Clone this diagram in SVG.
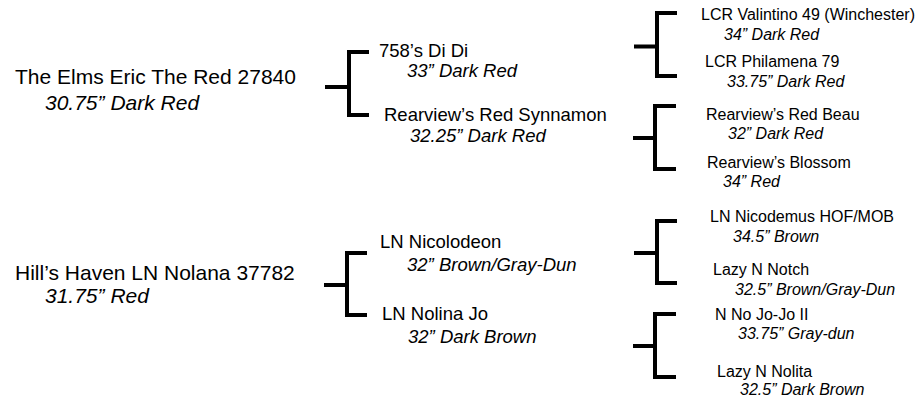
<svg xmlns="http://www.w3.org/2000/svg" width="919" height="397" viewBox="0 0 919 397">
<style>
text{font-family:"Liberation Sans",Arial,sans-serif;fill:#000}
.g1{font-size:21px}
.g2{font-size:18.5px}
.g3{font-size:16px}
.i{font-style:italic}
.br{fill:none;stroke:#000;stroke-width:4;stroke-linejoin:miter}
</style>
<rect width="919" height="397" fill="#fff"/>
<g id="connectors">
<path class="br" d="M325,87H349M369,52H349V115H369"/>
<path class="br" d="M324,285H347M367,253H347V315H367"/>
<path class="br" d="M634,46.5H657M677,13H657V76H677"/>
<path class="br" d="M633,138H655M676,106H655V169H676"/>
<path class="br" d="M634,253H657M677,221H657V283H677"/>
<path class="br" d="M633,346H655M676,314H655V377H676"/>
</g>
<g id="elms-eric">
<text class="g1" x="15" y="84">The Elms Eric The Red 27840</text>
<text class="g1 i" x="45" y="110">30.75” Dark Red</text>
</g>
<g id="hills-haven">
<text class="g1" x="15" y="280">Hill’s Haven LN Nolana 37782</text>
<text class="g1 i" x="45" y="303">31.75” Red</text>
</g>
<g id="di-di">
<text class="g2" x="379" y="57">758’s Di Di</text>
<text class="g2 i" x="407" y="77">33” Dark Red</text>
</g>
<g id="synnamon">
<text class="g2" x="384" y="121">Rearview’s Red Synnamon</text>
<text class="g2 i" x="410" y="142">32.25” Dark Red</text>
</g>
<g id="nicolodeon">
<text class="g2" x="380" y="248">LN Nicolodeon</text>
<text class="g2 i" x="407" y="271">32” Brown/Gray-Dun</text>
</g>
<g id="nolina-jo">
<text class="g2" x="382" y="320">LN Nolina Jo</text>
<text class="g2 i" x="408" y="343">32” Dark Brown</text>
</g>
<g id="valintino">
<text class="g3" x="701" y="20">LCR Valintino 49 (Winchester)</text>
<text class="g3 i" x="724" y="40">34” Dark Red</text>
</g>
<g id="philamena">
<text class="g3" x="705" y="67">LCR Philamena 79</text>
<text class="g3 i" x="727" y="87">33.75” Dark Red</text>
</g>
<g id="red-beau">
<text class="g3" x="706" y="120">Rearview’s Red Beau</text>
<text class="g3 i" x="728" y="139">32” Dark Red</text>
</g>
<g id="blossom">
<text class="g3" x="707" y="168">Rearview’s Blossom</text>
<text class="g3 i" x="723" y="187">34” Red</text>
</g>
<g id="nicodemus">
<text class="g3" x="710" y="222">LN Nicodemus HOF/MOB</text>
<text class="g3 i" x="733" y="242">34.5” Brown</text>
</g>
<g id="lazy-n-notch">
<text class="g3" x="713" y="275">Lazy N Notch</text>
<text class="g3 i" x="735" y="295">32.5” Brown/Gray-Dun</text>
</g>
<g id="no-jo-jo">
<text class="g3" x="715" y="320">N No Jo-Jo II</text>
<text class="g3 i" x="738" y="339">33.75” Gray-dun</text>
</g>
<g id="lazy-n-nolita">
<text class="g3" x="717" y="377">Lazy N Nolita</text>
<text class="g3 i" x="740" y="395">32.5” Dark Brown</text>
</g>
</svg>
